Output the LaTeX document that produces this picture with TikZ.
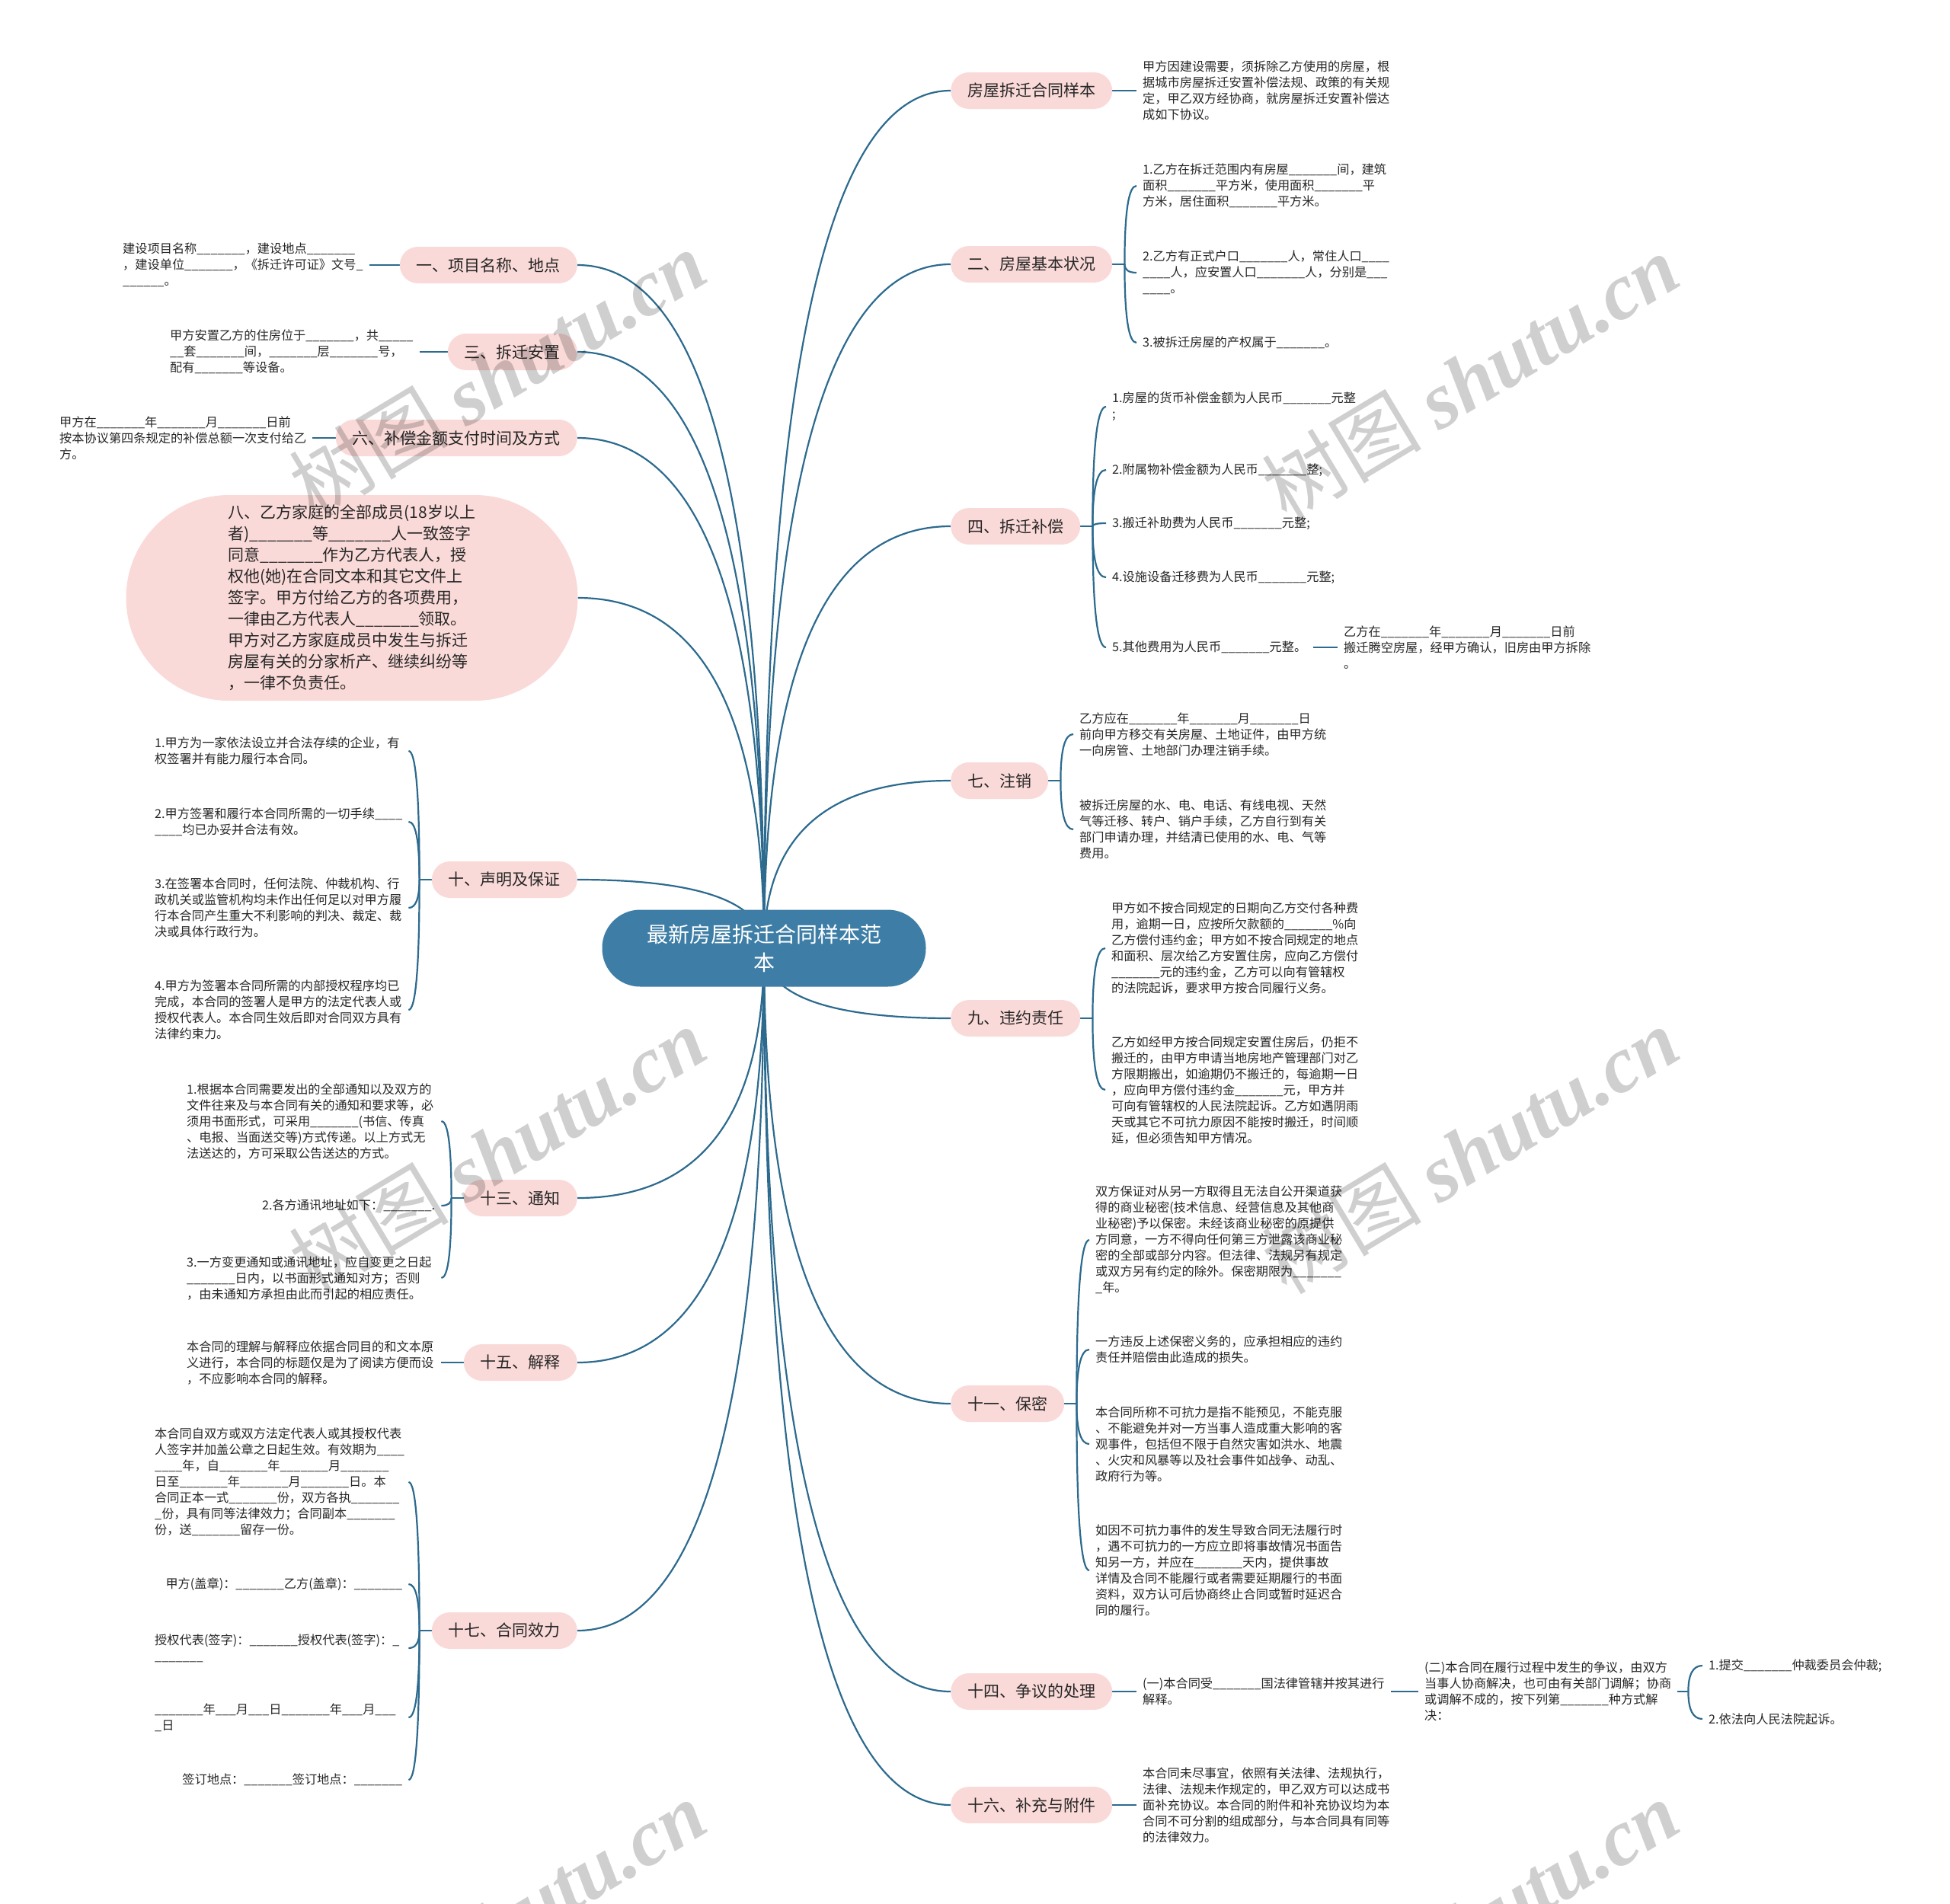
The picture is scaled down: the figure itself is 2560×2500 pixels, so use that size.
\documentclass[tikz,border=0pt]{standalone}
\usepackage{fontspec}
\setmainfont{Noto Sans CJK SC}
\newfontfamily\wmlat{Liberation Serif}
\usetikzlibrary{calc}
\definecolor{lnc}{RGB}{44,106,142}
\definecolor{ctrc}{RGB}{62,126,166}
\definecolor{pk}{RGB}{250,218,216}
\definecolor{txc}{RGB}{38,38,38}
\pgfdeclarelayer{bg}
\pgfsetlayers{bg,main}
\newcommand\blnk{\_\_\_\_\_\_\_}
\newcommand\qc[3]{\draw[conn] (#1) .. controls ($(#1)!0.6667!(#2)$) and ($(#3)!0.6667!(#2)$) .. (#3);}
\tikzset{
 conn/.style={draw=lnc, line width=2.2pt},
 ctr/.style={fill=ctrc, rounded corners=50pt, minimum width=425pt, minimum height=101pt, text=white, font=\fontsize{28}{37}\selectfont, align=center, inner sep=0pt},
 br/.style={fill=pk, rounded corners=24pt, minimum height=48pt, inner xsep=22pt, inner ysep=0pt, text=txc, font=\fontsize{21}{28}\selectfont},
 leaf/.style={text=txc, font=\fontsize{16.2}{21}\selectfont, align=left, inner xsep=8pt, inner ysep=2pt, anchor=west},
 leafw/.style={leaf, text width=#1},
 wm/.style={rotate=31, text=black, opacity=0.19, font=\fontsize{105}{105}\selectfont}
}
\begin{document}
\begin{tikzpicture}[x=1pt,y=-1pt]
\useasboundingbox (0,0) rectangle (2560,2500);
% centre
\node[ctr] (c) at (1003,1245) {最新房屋拆迁合同样本范\\本};
% right branches
\node[br, anchor=west] (b1) at (1248,119) {房屋拆迁合同样本};
\node[br, anchor=west] (b2) at (1248,347) {二、房屋基本状况};
\node[br, anchor=west] (b4) at (1248,691) {四、拆迁补偿};
\node[br, anchor=west] (b7) at (1248,1025) {七、注销};
\node[br, anchor=west] (b9) at (1248,1337) {九、违约责任};
\node[br, anchor=west] (b11) at (1248,1843) {十一、保密};
\node[br, anchor=west] (b14) at (1248,2221) {十四、争议的处理};
\node[br, anchor=west] (b16) at (1248,2370) {十六、补充与附件};
% left branches
\node[br, anchor=east] (a1) at (758,348) {一、项目名称、地点};
\node[br, anchor=east] (a3) at (758,462) {三、拆迁安置};
\node[br, anchor=east] (a6) at (758,575) {六、补偿金额支付时间及方式};
\node[fill=pk, rounded corners=135pt, minimum width=593pt, minimum height=270pt, text=txc, font=\fontsize{21}{28}\selectfont, align=left, inner sep=0pt] (a8) at (462,785) {八、乙方家庭的全部成员(18岁以上\\者)\blnk 等\blnk 人一致签字\\同意\blnk 作为乙方代表人，授\\权他(她)在合同文本和其它文件上\\签字。甲方付给乙方的各项费用，\\一律由乙方代表人\blnk 领取。\\甲方对乙方家庭成员中发生与拆迁\\房屋有关的分家析产、继续纠纷等\\，一律不负责任。};
\node[br, anchor=east] (a10) at (758,1155) {十、声明及保证};
\node[br, anchor=east] (a13) at (758,1573) {十三、通知};
\node[br, anchor=east] (a15) at (758,1789) {十五、解释};
\node[br, anchor=east] (a17) at (758,2141) {十七、合同效力};
% right leaves
\node[leaf] (r1) at (1492,119) {甲方因建设需要，须拆除乙方使用的房屋，根\\据城市房屋拆迁安置补偿法规、政策的有关规\\定，甲乙双方经协商，就房屋拆迁安置补偿达\\成如下协议。};
\node[leaf] (r2a) at (1492,244) {1.乙方在拆迁范围内有房屋\blnk 间，建筑\\面积\blnk 平方米，使用面积\blnk 平\\方米，居住面积\blnk 平方米。};
\node[leaf] (r2b) at (1492,358) {2.乙方有正式户口\blnk 人，常住人口\_\_\_\_\\\_\_\_\_人，应安置人口\blnk 人，分别是\_\_\_\\\_\_\_\_。};
\node[leaf] (r2c) at (1492,450) {3.被拆迁房屋的产权属于\blnk 。};
\node[leaf] (r4a) at (1452,534) {1.房屋的货币补偿金额为人民币\blnk 元整\\;};
\node[leaf] (r4b) at (1452,617) {2.附属物补偿金额为人民币\blnk 整;};
\node[leaf] (r4c) at (1452,687) {3.搬迁补助费为人民币\blnk 元整;};
\node[leaf] (r4d) at (1452,758) {4.设施设备迁移费为人民币\blnk 元整;};
\node[leaf] (r4e) at (1452,850) {5.其他费用为人民币\blnk 元整。};
\node[leaf] (r4f) at (1756,850) {乙方在\blnk 年\blnk 月\blnk 日前\\搬迁腾空房屋，经甲方确认，旧房由甲方拆除\\。};
\node[leaf] (r7a) at (1409,964) {乙方应在\blnk 年\blnk 月\blnk 日\\前向甲方移交有关房屋、土地证件，由甲方统\\一向房管、土地部门办理注销手续。};
\node[leaf] (r7b) at (1409,1089) {被拆迁房屋的水、电、电话、有线电视、天然\\气等迁移、转户、销户手续，乙方自行到有关\\部门申请办理，并结清已使用的水、电、气等\\费用。};
\node[leaf] (r9a) at (1451,1245) {甲方如不按合同规定的日期向乙方交付各种费\\用，逾期一日，应按所欠款额的\blnk\%向\\乙方偿付违约金；甲方如不按合同规定的地点\\和面积、层次给乙方安置住房，应向乙方偿付\\\blnk 元的违约金，乙方可以向有管辖权\\的法院起诉，要求甲方按合同履行义务。};
\node[leaf] (r9b) at (1451,1431) {乙方如经甲方按合同规定安置住房后，仍拒不\\搬迁的，由甲方申请当地房地产管理部门对乙\\方限期搬出，如逾期仍不搬迁的，每逾期一日\\，应向甲方偿付违约金\blnk 元，甲方并\\可向有管辖权的人民法院起诉。乙方如遇阴雨\\天或其它不可抗力原因不能按时搬迁，时间顺\\延，但必须告知甲方情况。};
\node[leaf] (r11a) at (1430,1628) {双方保证对从另一方取得且无法自公开渠道获\\得的商业秘密(技术信息、经营信息及其他商\\业秘密)予以保密。未经该商业秘密的原提供\\方同意，一方不得向任何第三方泄露该商业秘\\密的全部或部分内容。但法律、法规另有规定\\或双方另有约定的除外。保密期限为\blnk\\\_年。};
\node[leaf] (r11b) at (1430,1772) {一方违反上述保密义务的，应承担相应的违约\\责任并赔偿由此造成的损失。};
\node[leaf] (r11c) at (1430,1896) {本合同所称不可抗力是指不能预见，不能克服\\、不能避免并对一方当事人造成重大影响的客\\观事件，包括但不限于自然灾害如洪水、地震\\、火灾和风暴等以及社会事件如战争、动乱、\\政府行为等。};
\node[leaf] (r11d) at (1430,2062) {如因不可抗力事件的发生导致合同无法履行时\\，遇不可抗力的一方应立即将事故情况书面告\\知另一方，并应在\blnk 天内，提供事故\\详情及合同不能履行或者需要延期履行的书面\\资料，双方认可后协商终止合同或暂时延迟合\\同的履行。};
\node[leaf] (r14a) at (1492,2221) {(一)本合同受\blnk 国法律管辖并按其进行\\解释。};
\node[leaf] (r14b) at (1862,2221) {(二)本合同在履行过程中发生的争议，由双方\\当事人协商解决，也可由有关部门调解；协商\\或调解不成的，按下列第\blnk 种方式解\\决：};
\node[leaf] (r14c) at (2235,2187) {1.提交\blnk 仲裁委员会仲裁;};
\node[leaf] (r14d) at (2235,2257) {2.依法向人民法院起诉。};
\node[leaf] (r16) at (1492,2370) {本合同未尽事宜，依照有关法律、法规执行，\\法律、法规未作规定的，甲乙双方可以达成书\\面补充协议。本合同的附件和补充协议均为本\\合同不可分割的组成部分，与本合同具有同等\\的法律效力。};
% left leaves
\node[leaf] (l1) at (153,348) {建设项目名称\blnk ，建设地点\blnk\\，建设单位\blnk ，《拆迁许可证》文号\_\\\_\_\_\_\_\_。};
\node[leaf] (l3) at (215,462) {甲方安置乙方的住房位于\blnk ，共\_\_\_\_\_\\\_\_套\blnk 间，\blnk 层\blnk 号，\\配有\blnk 等设备。};
\node[leaf] (l6) at (70,575) {甲方在\blnk 年\blnk 月\blnk 日前\\按本协议第四条规定的补偿总额一次支付给乙\\方。};
\node[leafw=325pt] (l10a) at (195,986) {1.甲方为一家依法设立并合法存续的企业，有\\权签署并有能力履行本合同。};
\node[leafw=325pt] (l10b) at (195,1079) {2.甲方签署和履行本合同所需的一切手续\_\_\_\_\\\_\_\_\_均已办妥并合法有效。};
\node[leafw=325pt] (l10c) at (195,1192) {3.在签署本合同时，任何法院、仲裁机构、行\\政机关或监管机构均未作出任何足以对甲方履\\行本合同产生重大不利影响的判决、裁定、裁\\决或具体行政行为。};
\node[leafw=325pt] (l10d) at (195,1326) {4.甲方为签署本合同所需的内部授权程序均已\\完成，本合同的签署人是甲方的法定代表人或\\授权代表人。本合同生效后即对合同双方具有\\法律约束力。};
\node[leafw=326pt] (l13a) at (237,1472) {1.根据本合同需要发出的全部通知以及双方的\\文件往来及与本合同有关的通知和要求等，必\\须用书面形式，可采用\blnk(书信、传真\\、电报、当面送交等)方式传递。以上方式无\\法送达的，方可采取公告送达的方式。};
\node[leafw=326pt, align=right] (l13b) at (237,1583) {2.各方通讯地址如下：\blnk.};
\node[leafw=326pt] (l13c) at (237,1678) {3.一方变更通知或通讯地址，应自变更之日起\\\blnk 日内，以书面形式通知对方；否则\\，由未通知方承担由此而引起的相应责任。};
\node[leafw=326pt] (l15) at (237,1789) {本合同的理解与解释应依据合同目的和文本原\\义进行，本合同的标题仅是为了阅读方便而设\\，不应影响本合同的解释。};
\node[leafw=325pt] (l17a) at (195,1946) {本合同自双方或双方法定代表人或其授权代表\\人签字并加盖公章之日起生效。有效期为\_\_\_\_\\\_\_\_\_年，自\blnk 年\blnk 月\blnk\\日至\blnk 年\blnk 月\blnk 日。本\\合同正本一式\blnk 份，双方各执\blnk\\\_份，具有同等法律效力；合同副本\blnk\\份，送\blnk 留存一份。};
\node[leafw=325pt, align=right] (l17b) at (195,2080) {甲方(盖章)：\blnk 乙方(盖章)：\blnk};
\node[leafw=325pt] (l17c) at (195,2164) {授权代表(签字)：\blnk 授权代表(签字)：\_\\\_\_\_\_\_\_\_};
\node[leafw=325pt] (l17d) at (195,2255) {\blnk 年\_\_\_月\_\_\_日\blnk 年\_\_\_月\_\_\_\\\_日};
\node[leafw=325pt, align=right] (l17e) at (195,2337) {签订地点：\blnk 签订地点：\blnk};
% junctions
\coordinate (j2) at ($(b2.east)+(16,0)$);
\coordinate (j4) at ($(b4.east)+(16,0)$);
\coordinate (j7) at ($(b7.east)+(16,0)$);
\coordinate (j9) at ($(b9.east)+(16,0)$);
\coordinate (j11) at ($(b11.east)+(16,0)$);
\coordinate (j14) at ($(r14b.east)+(14,0)$);
\coordinate (j10) at ($(a10.west)+(-16,0)$);
\coordinate (j13) at ($(a13.west)+(-16,0)$);
\coordinate (j17) at ($(a17.west)+(-16,0)$);
\begin{pgfonlayer}{bg}
% main connectors
\foreach \b in {b1,b2,b4,b7,b9,b11,b14,b16} {\qc{c.center}{c.center |- \b.west}{\b.west}}
\foreach \a in {a1,a3,a6,a8,a10,a13,a15,a17} {\qc{c.center}{c.center |- \a.east}{\a.east}}
% single children
\draw[conn] (b1.east) -- (r1.west);
\draw[conn] (r4e.east) -- (r4f.west);
\draw[conn] (b14.east) -- (r14a.west);
\draw[conn] (r14a.east) -- (r14b.west);
\draw[conn] (b16.east) -- (r16.west);
\draw[conn] (l1.east) -- (a1.west);
\draw[conn] (l3.east) -- (a3.west);
\draw[conn] (l6.east) -- (a6.west);
\draw[conn] (l15.east) -- (a15.west);
% braces right
\draw[conn] (b2.east) -- (j2);
\foreach \n in {r2a,r2b,r2c} {\qc{j2}{j2 |- \n.west}{\n.west}}
\draw[conn] (b4.east) -- (j4);
\foreach \n in {r4a,r4b,r4c,r4d,r4e} {\qc{j4}{j4 |- \n.west}{\n.west}}
\draw[conn] (b7.east) -- (j7);
\foreach \n in {r7a,r7b} {\qc{j7}{j7 |- \n.west}{\n.west}}
\draw[conn] (b9.east) -- (j9);
\foreach \n in {r9a,r9b} {\qc{j9}{j9 |- \n.west}{\n.west}}
\draw[conn] (b11.east) -- (j11);
\foreach \n in {r11a,r11b,r11c,r11d} {\qc{j11}{j11 |- \n.west}{\n.west}}
\draw[conn] (r14b.east) -- (j14);
\foreach \n in {r14c,r14d} {\qc{j14}{j14 |- \n.west}{\n.west}}
% braces left
\draw[conn] (a10.west) -- (j10);
\foreach \n in {l10a,l10b,l10c,l10d} {\qc{j10}{j10 |- \n.east}{\n.east}}
\draw[conn] (a13.west) -- (j13);
\foreach \n in {l13a,l13b,l13c} {\qc{j13}{j13 |- \n.east}{\n.east}}
\draw[conn] (a17.west) -- (j17);
\foreach \n in {l17a,l17b,l17c,l17d,l17e} {\qc{j17}{j17 |- \n.east}{\n.east}}
\end{pgfonlayer}
% watermark
\begin{scope}
\clip (0,0) rectangle (2560,2500);
\foreach \wx/\wy [count=\i] in {653/490, 1930/495, 653/1510, 1930/1510, 653/2525, 1930/2525} {
  \node[wm] (wm\i) at (\wx,\wy) {树图 {\wmlat\bfseries\itshape shutu.cn}};
}
\end{scope}
\end{tikzpicture}
\end{document}
